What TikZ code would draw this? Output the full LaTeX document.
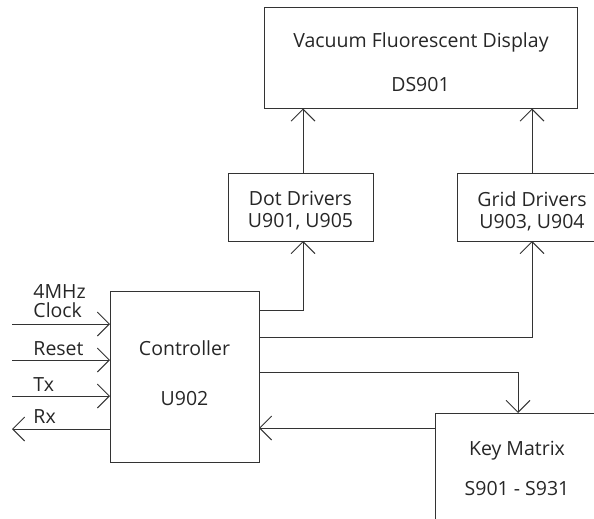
\documentclass[tikz,border=0pt]{standalone}
\usepackage{fontspec}
\setmainfont{Open Sans}
\usetikzlibrary{arrows.meta}
\begin{document}
\begin{tikzpicture}[x=1pt,y=-1pt,
  line width=0.9pt, draw=black!80, text=black!85,
  box/.style={draw, inner sep=0pt},
  lbl/.style={font=\fontsize{19.5}{22}\selectfont, inner sep=0pt, anchor=base},
  arr/.style={-{Straight Barb[length=12pt,width=24pt,line width=0.9pt]}}]
\useasboundingbox (0,0) rectangle (594,519);
\clip (0,0) rectangle (594,519);
% boxes
\node[box, minimum width=313pt, minimum height=101pt] (vfd) at (420.5,58) {};
\node[lbl] (vfdt1) at (421,48) {Vacuum Fluorescent Display};
\node[lbl] (vfdt2) at (420.5,92) {DS901};
\node[box, minimum width=145pt, minimum height=68pt] (dot) at (300.5,207) {};
\node[lbl] (dott1) at (300.5,205) {Dot Drivers};
\node[lbl] (dott2) at (300.5,227) {U901, U905};
\node[box, minimum width=150pt, minimum height=68pt] (grid) at (532,207) {};
\node[lbl] (gridt1) at (532,206) {Grid Drivers};
\node[lbl] (gridt2) at (532,228) {U903, U904};
\node[box, minimum width=149pt, minimum height=171pt] (ctl) at (184.5,376.5) {};
\node[lbl] (ctlt1) at (184.5,355) {Controller};
\node[lbl] (ctlt2) at (184.5,405) {U902};
\node[box, minimum width=166pt, minimum height=130pt] (key) at (518,478) {};
\node[lbl] (keyt1) at (517,455) {Key Matrix};
\node[lbl] (keyt2) at (517,495) {S901 - S931};
% coordinates
\coordinate (dotout) at (259,310);
\coordinate (gridout) at (259,337);
\coordinate (keyout) at (259,372);
\coordinate (keyin) at (259,428);
\coordinate (clk) at (12,324);
\coordinate (rst) at (12,360);
\coordinate (tx) at (12,396);
\coordinate (rx) at (12,429);
% connectors
\draw[arr] (303,173) -- (303,108.5);
\draw[arr] (532,173) -- (532,108.5);
\draw[arr] (dotout) -| (303,241);
\draw[arr] (gridout) -| (532,241);
\draw[arr] (keyout) -| (518,413);
\draw[arr] (435,428) -- (keyin);
\draw[arr] (clk) -- (110,324);
\draw[arr] (rst) -- (110,360);
\draw[arr] (tx) -- (110,396);
\draw[arr] (110,429) -- (rx);
% labels
\node[lbl, anchor=base west] (l4m) at (33,298) {4MHz};
\node[lbl, anchor=base west] (lclk) at (33,317) {Clock};
\node[lbl, anchor=base west] (lrst) at (33,355) {Reset};
\node[lbl, anchor=base west] (ltx) at (33,391) {Tx};
\node[lbl, anchor=base west] (lrx) at (33,423) {Rx};
\end{tikzpicture}
\end{document}
